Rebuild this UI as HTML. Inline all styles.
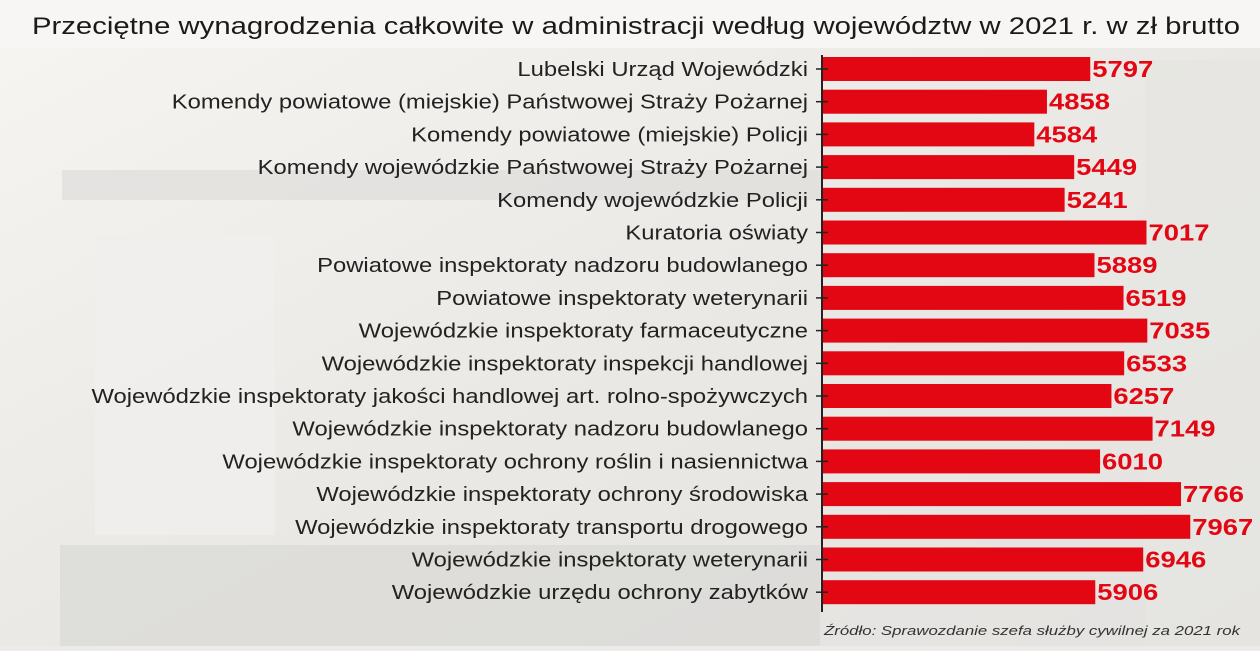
<!DOCTYPE html>
<html><head><meta charset="utf-8"><style>
body{margin:0;width:1260px;height:646px;overflow:hidden;background:#ecebe8;font-family:"Liberation Sans",sans-serif}
</style></head><body>
<svg width="1260" height="646" xmlns="http://www.w3.org/2000/svg">
<defs><linearGradient id="bg" x1="0" y1="0" x2="1" y2="1">
<stop offset="0" stop-color="#f6f5f2"/><stop offset="0.5" stop-color="#ebe9e5"/><stop offset="1" stop-color="#e3e2e0"/></linearGradient></defs>
<rect width="1260" height="646" fill="url(#bg)"/>
<rect x="0" y="0" width="1260" height="48" fill="#f7f6f4"/>
<rect x="62" y="170" width="760" height="30" fill="#dcdbd8" opacity="0.6"/>
<rect x="95" y="235" width="180" height="300" fill="#f0efed" opacity="0.8"/>
<rect x="60" y="545" width="760" height="101" fill="#d9d8d5" opacity="0.7"/>
<rect x="1145" y="60" width="115" height="586" fill="#e6e5e1" opacity="0.7"/>
<text x="32" y="34" font-size="24" fill="#1a1a1a" textLength="1208" lengthAdjust="spacingAndGlyphs">Przeciętne wynagrodzenia całkowite w administracji według województw w 2021 r. w zł brutto</text>
<line x1="822" y1="55" x2="822" y2="612" stroke="#222" stroke-width="2"/>
<g id="bars" font-size="20" fill="#222" text-anchor="end"></g>
<text x="1240" y="635" font-size="12.5" font-style="italic" fill="#333" text-anchor="end" textLength="416" lengthAdjust="spacingAndGlyphs">Źródło: Sprawozdanie szefa służby cywilnej za 2021 rok</text>
</svg>
<script>
var d=[["Lubelski Urząd Wojewódzki",5797],["Komendy powiatowe (miejskie) Państwowej Straży Pożarnej",4858],["Komendy powiatowe (miejskie) Policji",4584],["Komendy wojewódzkie Państwowej Straży Pożarnej",5449],["Komendy wojewódzkie Policji",5241],["Kuratoria oświaty",7017],["Powiatowe inspektoraty nadzoru budowlanego",5889],["Powiatowe inspektoraty weterynarii",6519],["Wojewódzkie inspektoraty farmaceutyczne",7035],["Wojewódzkie inspektoraty inspekcji handlowej",6533],["Wojewódzkie inspektoraty jakości handlowej art. rolno-spożywczych",6257],["Wojewódzkie inspektoraty nadzoru budowlanego",7149],["Wojewódzkie inspektoraty ochrony roślin i nasiennictwa",6010],["Wojewódzkie inspektoraty ochrony środowiska",7766],["Wojewódzkie inspektoraty transportu drogowego",7967],["Wojewódzkie inspektoraty weterynarii",6946],["Wojewódzkie urzędu ochrony zabytków",5906]];
var g=document.getElementById('bars'),s='';
d.forEach(function(r,i){var c=69+i*32.7,w=r[1]*0.0461;
s+='<text class="lab" x="808" y="'+(c+7)+'">'+r[0]+'</text>';
s+='<rect x="823" y="'+(c-12)+'" width="'+(w)+'" height="24" fill="#e30613"/>';
s+='<line x1="816" y1="'+c+'" x2="828" y2="'+c+'" stroke="#222" stroke-width="1.5"/>';
s+='<text x="'+(825+w)+'" y="'+(c+8)+'" text-anchor="start" font-size="23" font-weight="bold" fill="#e30613" textLength="61" lengthAdjust="spacingAndGlyphs">'+r[1]+'</text>';});
g.innerHTML=s;
var labs=document.querySelectorAll('.lab');
labs.forEach(function(t){var L=t.getComputedTextLength();t.setAttribute('textLength',L*1.19);t.setAttribute('lengthAdjust','spacingAndGlyphs');});
</script>
</body></html>
